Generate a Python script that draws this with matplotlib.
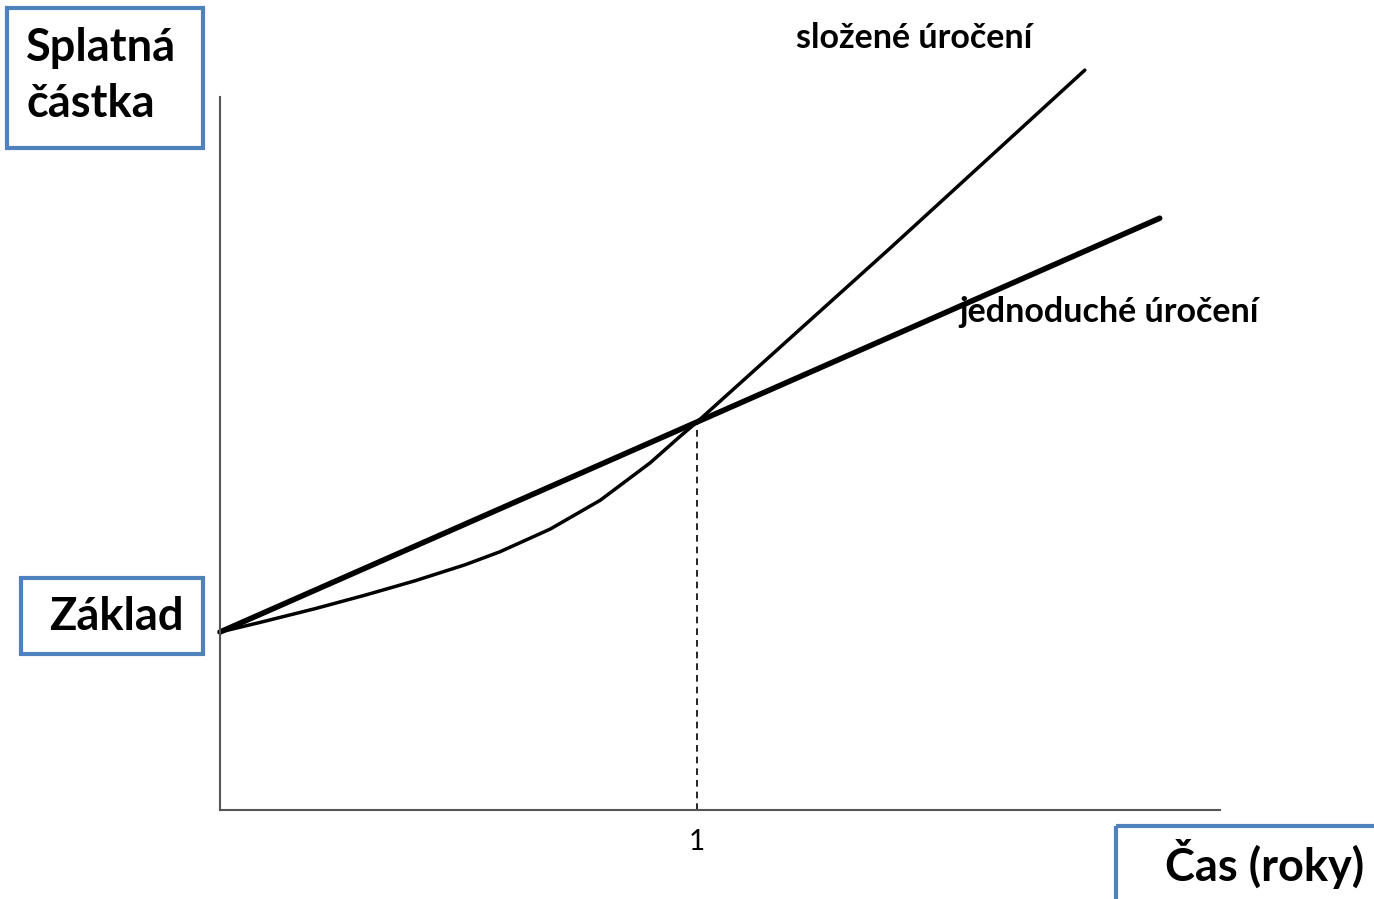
import matplotlib.pyplot as plt
from matplotlib.patches import Rectangle

plt.rcParams['font.family'] = ['Lato', 'DejaVu Sans']

# values (base amount = 100)
simple_t = [0.0, 1.0, 1.97]
simple_v = [100, 218, 332.5]

compound_t = [0.0, 0.084, 0.199, 0.304, 0.409, 0.514, 0.587, 0.692,
              0.797, 0.902, 0.964, 1.0, 1.405, 1.813]
compound_v = [100, 105.4, 113.1, 120.7, 128.8, 137.8, 145.1, 157.8,
              174.0, 195.1, 209.8, 218, 315.7, 415.7]

mark_t = 1.0
mark_v = 218
tick_labels = ['1']

fig = plt.figure(figsize=(13.74, 8.99), dpi=100)
ax = fig.add_axes([220/1374, 89/899, 1000/1374, 713/899])
ax.set_xlim(0, 2.0964)
ax.set_ylim(0, 400.6)

ax.plot(compound_t, compound_v, color='black', lw=2.5, solid_capstyle='round',
        solid_joinstyle='round', clip_on=False)
ax.plot(simple_t, simple_v, color='black', lw=4.0, solid_capstyle='round', clip_on=False)
ax.plot([mark_t, mark_t], [0, mark_v], color='black', lw=1.2, ls=(0, (4, 3)))

for s in ['top', 'right']:
    ax.spines[s].set_visible(False)
for s in ['left', 'bottom']:
    ax.spines[s].set_color('#555555')
    ax.spines[s].set_linewidth(1.5)
ax.set_yticks([])
ax.set_xticks([mark_t])
ax.set_xticklabels(tick_labels, fontsize=20)
ax.tick_params(axis='x', length=0, pad=14)

# overlay in pixel coordinates for labels and boxes
ov = fig.add_axes([0, 0, 1, 1], facecolor='none')
ov.set_xlim(0, 1374)
ov.set_ylim(899, 0)
ov.axis('off')

blue = '#4f81bd'
for (x0, y0, w, h) in [(7, 8, 196, 140), (21, 578, 182, 76), (1116, 826, 270, 90)]:
    ov.add_patch(Rectangle((x0, y0), w, h, fill=False, ec=blue, lw=3, clip_on=False))

ov.text(26, 48, 'Splatná', fontsize=32.5, fontweight='bold', va='center', ha='left')
ov.text(26, 104, 'částka', fontsize=32.5, fontweight='bold', va='center', ha='left')
ov.text(116, 617, 'Základ', fontsize=32.5, fontweight='bold', va='center', ha='center')
ov.text(1265, 864, 'Čas (roky)', fontsize=32.5, fontweight='bold', va='center', ha='center')
ov.text(914, 38, 'složené úročení', fontsize=24.5, fontweight='bold', va='center', ha='center')
ov.text(1109, 312, 'jednoduché úročení', fontsize=24.5, fontweight='bold', va='center', ha='center')

fig.savefig('out.png', dpi=100)
